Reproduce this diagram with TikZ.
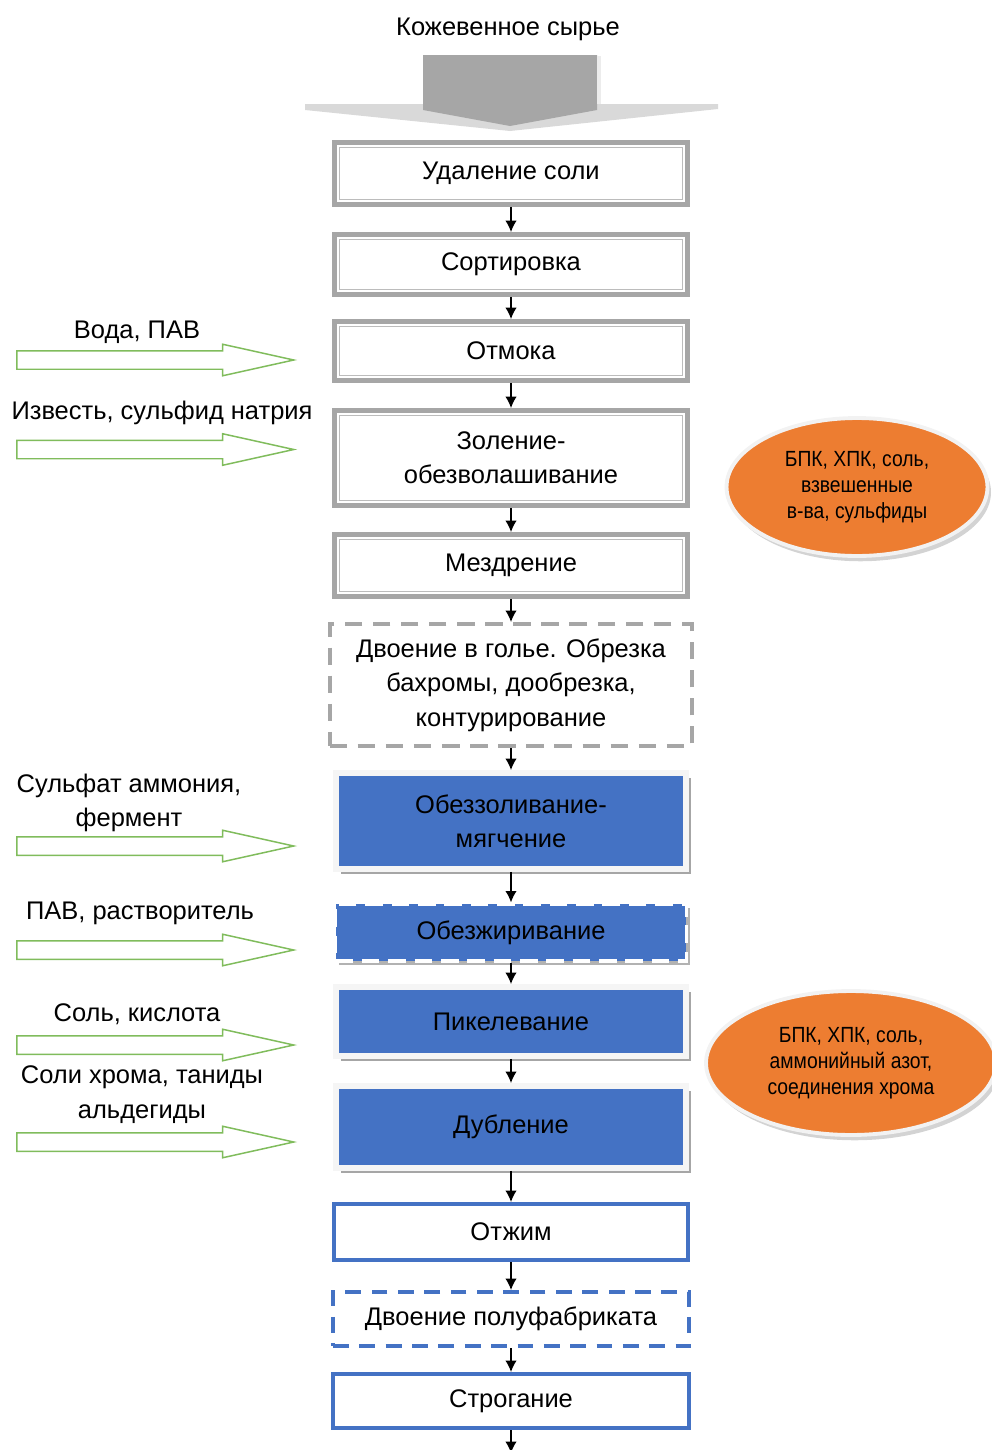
\documentclass[tikz,border=0pt]{standalone}
\usepackage{fontspec}
\setmainfont{Liberation Sans}
\newfontfamily\narrowfont[FakeStretch=0.88]{Liberation Sans}
\usepackage{tikz}
\usetikzlibrary{shapes.geometric, shapes.arrows, arrows.meta, shadows}
\definecolor{boxgray}{HTML}{A6A6A6}
\definecolor{stepblue}{HTML}{4472C4}
\definecolor{wasteorange}{HTML}{ED7D31}
\definecolor{feedgreen}{HTML}{80BC5C}
\newcommand{\stepfont}{\fontsize{14.5}{19.6}\selectfont}
\newcommand{\wastefont}{\narrowfont\fontsize{12.5}{14.8}\selectfont}
\tikzstyle{arrow} = [line width=0.8pt,->,>={Latex[length=6.5pt,width=6.5pt]}]
\tikzstyle{graybox} = [draw=boxgray, line width=2.8pt, fill=white, minimum width=7.06cm, align=center, font=\stepfont]
\tikzstyle{dashgray} = [draw=boxgray, line width=2.3pt, dash pattern=on 10pt off 6pt, fill=white, align=center, font=\stepfont]
\tikzstyle{bluebox} = [draw=gray!8, fill=stepblue, line width=3.4pt, minimum width=7cm, align=center, font=\stepfont,
    drop shadow={shadow xshift=2.6pt, shadow yshift=-2.6pt, fill=gray!70, opacity=1}]
\tikzstyle{bluedash} = [draw=white, fill=stepblue, line width=1.8pt, dash pattern=on 10pt off 5pt, minimum width=7.02cm, align=center, font=\stepfont,
    drop shadow={shadow xshift=2pt, shadow yshift=-2pt, fill=gray!60, opacity=1}]
\tikzstyle{blueframe} = [draw=stepblue, line width=2.3pt, fill=white, minimum width=7.1cm, align=center, font=\stepfont]
\tikzstyle{feed} = [single arrow, draw=feedgreen, fill=white, line width=0.85pt, minimum height=5.54cm, inner xsep=0pt, inner ysep=0.17cm,
    single arrow head extend=0.13cm, single arrow tip angle=25, anchor=west]
\tikzstyle{feedlabel} = [align=center, font=\stepfont]
\tikzstyle{waste} = [ellipse, fill=wasteorange, draw=gray!10, line width=2.2pt, inner sep=0pt, align=center, font=\wastefont,
    drop shadow={shadow xshift=2pt, shadow yshift=-3pt, fill=black!50, opacity=.35}]

\begin{document}
\begin{tikzpicture}[x=0.02cm, y=-0.02cm]
            \useasboundingbox (0,0) rectangle (991,1450);

            % Raw material and the big incoming arrow
            \node[font=\stepfont] (0) at (508,29) {Кожевенное сырье};
            \fill[gray!30] (305,104) -- (718,104) -- (718,109) -- (510,131) -- (305,110) -- cycle;
            \fill[boxgray] (423,55) -- (597,55) -- (597,110) -- (510,126) -- (423,110) -- cycle;
            \draw[gray!15, line width=2pt] (599,56) -- (599,104);

            % Process steps
            \node[graybox, minimum height=1.24cm] (1) at (511,173.5) {Удаление соли};
            \node[graybox, minimum height=1.2cm] (2) at (511,264.5) {Сортировка};
            \node[graybox, minimum height=1.18cm] (3) at (511,351) {Отмока};
            \node[graybox, minimum height=1.9cm] (4) at (511,458) {Золение-\\обезволашивание};
            \node[graybox, minimum height=1.24cm] (5) at (511,565.5) {Мездрение};
            \node[dashgray, minimum width=7.26cm, minimum height=2.44cm] (6) at (511,685) {Двоение в голье. Обрезка\\бахромы, дообрезка,\\контурирование};
            \node[bluebox, minimum height=1.92cm] (7) at (511,821) {Обеззоливание-\\мягчение};
            \node[bluedash, minimum height=1.14cm] (8) at (511,932.5) {Обезжиривание};
            \node[bluebox, minimum height=1.38cm] (9) at (511,1021.5) {Пикелевание};
            \node[bluebox, minimum height=1.64cm] (10) at (511,1127) {Дубление};
            \node[blueframe, minimum height=1.12cm] (11) at (511,1232) {Отжим};
            \node[blueframe, dash pattern=on 9pt off 6pt, minimum width=7.12cm, minimum height=1.08cm] (12) at (511,1319) {Двоение полуфабриката};
            \node[blueframe, minimum width=7.12cm, minimum height=1.08cm] (13) at (511,1401) {Строгание};
            \coordinate (14) at (511,1453);

            % Inner line of the grey frames
            \foreach \n in {1,...,5}
                \draw[boxgray!75, line width=0.7pt] ([xshift=4.2pt,yshift=-4.2pt]\n.north west) rectangle ([xshift=-4.2pt,yshift=4.2pt]\n.south east);

            % Draw arrows between the steps
            \draw[arrow] (1) -- (2);
            \draw[arrow] (2) -- (3);
            \draw[arrow] (3) -- (4);
            \draw[arrow] (4) -- (5);
            \draw[arrow] (5) -- (6);
            \draw[arrow] (6) -- (7);
            \draw[arrow] (7) -- (8);
            \draw[arrow] (8) -- (9);
            \draw[arrow] (9) -- (10);
            \draw[arrow] (10) -- (11);
            \draw[arrow] (11) -- (12);
            \draw[arrow] (12) -- (13);
            \draw[arrow] (13) -- (14);

            % Reagents coming in
            \node[feed] (i1) at (16,360) {};
            \node[feed] (i2) at (16,449.5) {};
            \node[feed] (i3) at (16,846) {};
            \node[feed] (i4) at (16,950) {};
            \node[feed] (i5) at (16,1045) {};
            \node[feed] (i6) at (16,1142) {};
            \node[feedlabel] (l1) at (137,332) {Вода, ПАВ};
            \node[feedlabel] (l2) at (162,413) {Известь, сульфид натрия};
            \node[feedlabel] (l3) at (129,803) {Сульфат аммония,\\фермент};
            \node[feedlabel] (l4) at (140,913) {ПАВ, растворитель};
            \node[feedlabel] (l5) at (137,1014) {Соль, кислота};
            \node[feedlabel] (l6) at (142,1094.5) {Соли хрома, таниды\\альдегиды};

            % Waste water
            \node[waste, minimum width=5.22cm, minimum height=2.76cm] (e1) at (857,487) {БПК, ХПК, соль,\\взвешенные\\в-ва, сульфиды};
            \node[waste, minimum width=5.8cm, minimum height=2.88cm] (e2) at (851,1063) {БПК, ХПК, соль,\\аммонийный азот,\\соединения хрома};
        \end{tikzpicture}
\end{document}
